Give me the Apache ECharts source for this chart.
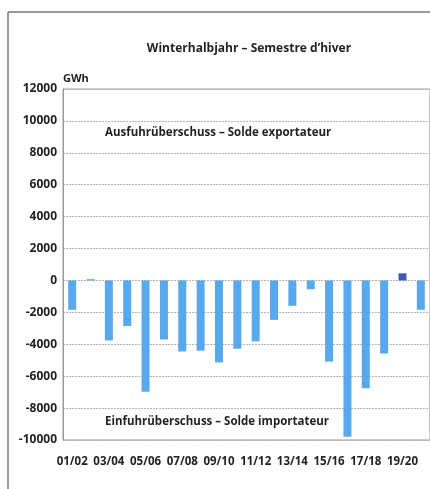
<!DOCTYPE html>
<html>
<head>
<meta charset="utf-8">
<script src="https://cdn.jsdelivr.net/npm/echarts@6/dist/echarts.min.js"></script>
<style>
html,body{margin:0;padding:0;background:#fff;}
#c{width:430px;height:489px;}
</style>
</head>
<body>
<div id="c"></div>
<script>
var categories = ['01/02','02/03','03/04','04/05','05/06','06/07','07/08','08/09','09/10','10/11','11/12','12/13','13/14','14/15','15/16','16/17','17/18','18/19','19/20','20/21'];
var balance = [-1840, 80, -3760, -2860, -6970, -3700, -4450, -4400, -5140, -4280, -3820, -2470, -1590, -550, -5090, -9800, -6760, -4580, 450, -1840];
var yTicks = {min: -10000, max: 12000, step: 2000};
var titleText = 'Winterhalbjahr – Semestre d’hiver';
var unitText = 'GWh';
var exportText = 'Ausfuhrüberschuss – Solde exportateur';
var importText = 'Einfuhrüberschuss – Solde importateur';

var FONT = '"Open Sans", "Noto Sans", sans-serif';
var TXT = '#231f20';
var chart = echarts.init(document.getElementById('c'), null, {renderer: 'canvas'});
chart.setOption({
  animation: false,
  backgroundColor: '#fff',
  grid: {left: 63, top: 89, width: 367, height: 351, show: true, borderColor: '#9a9a9a', borderWidth: 1, backgroundColor: 'transparent'},
  title: {text: titleText, left: 244, top: 38, textAlign: 'center',
    textStyle: {fontFamily: FONT, fontSize: 12, fontWeight: 'bold', color: TXT}},
  xAxis: {type: 'category', data: categories,
    axisLine: {show: false}, axisTick: {show: false},
    axisLabel: {interval: 1, margin: 16, fontFamily: FONT, fontSize: 11.5, fontWeight: 'bold', color: TXT}},
  yAxis: {type: 'value', min: yTicks.min, max: yTicks.max, interval: yTicks.step,
    axisLine: {show: true, lineStyle: {color: '#9a9a9a', width: 1}},
    axisTick: {show: false},
    axisLabel: {margin: 6, fontFamily: FONT, fontSize: 12, fontWeight: 'bold', color: TXT,
      formatter: function(v){ return String(v); }},
    splitLine: {show: true, lineStyle: {color: '#b5b5b5', type: [2, 1], width: 1}}},
  series: [{type: 'bar', barWidth: 8,
    data: balance.map(function(v){ return {value: v, itemStyle: {color: v > 200 ? '#3d5cb8' : '#58a8ee'}}; })}],
  graphic: [
    {type: 'line', shape: {x1: 8, y1: 12, x2: 430, y2: 12}, style: {stroke: '#7a7a7a', lineWidth: 1.5}},
    {type: 'line', shape: {x1: 8, y1: 12, x2: 8, y2: 489}, style: {stroke: '#7a7a7a', lineWidth: 1.5}},
    {type: 'text', left: 63, top: 73, style: {text: unitText, font: 'bold 11px ' + FONT, fill: TXT}},
    {type: 'text', left: 105, top: 127, style: {text: exportText, font: 'bold 11.5px ' + FONT, fill: TXT}},
    {type: 'text', left: 105, top: 416, style: {text: importText, font: 'bold 11.5px ' + FONT, fill: TXT}}
  ]
});
</script>
</body>
</html>
